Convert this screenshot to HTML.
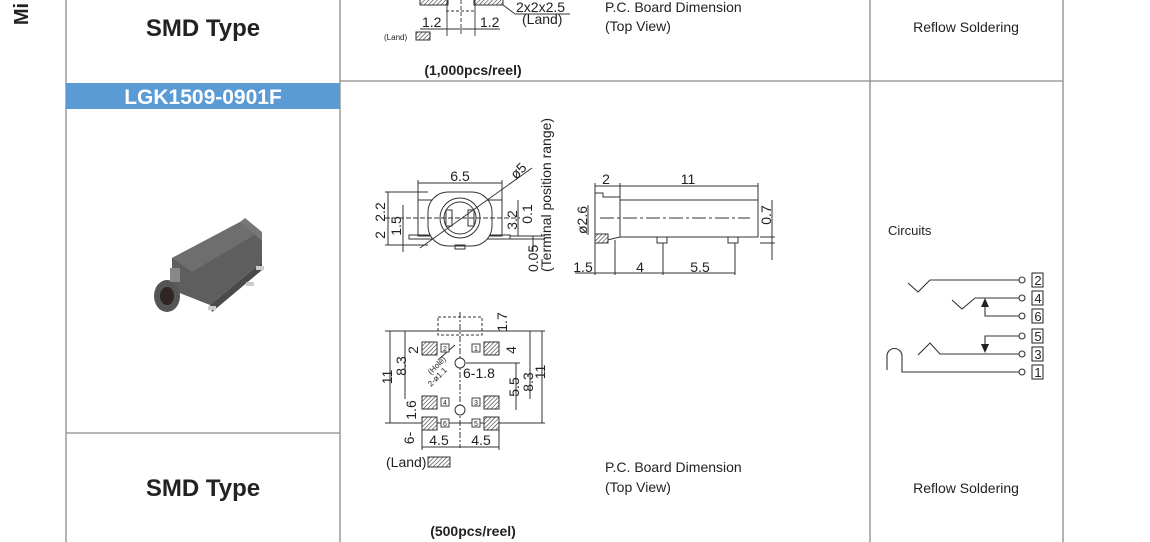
<!DOCTYPE html>
<html><head><meta charset="utf-8"><style>
html,body{margin:0;padding:0;background:#fff;width:1150px;height:542px;overflow:hidden}
svg{display:block}
text{font-family:"Liberation Sans",Arial,sans-serif;fill:#222}
</style></head><body>
<svg width="1150" height="542" viewBox="0 0 1150 542" xmlns="http://www.w3.org/2000/svg">
<defs>
<pattern id="h" width="3" height="3" patternUnits="userSpaceOnUse" patternTransform="rotate(45)"><rect width="3" height="3" fill="#fff"/><line x1="0" y1="0" x2="0" y2="3" stroke="#333" stroke-width="1.2"/></pattern>
</defs>
<g stroke="#8a8a8a" stroke-width="1.3" fill="none">
<line x1="66" y1="0" x2="66" y2="542"/>
<line x1="340" y1="0" x2="340" y2="542"/>
<line x1="870" y1="0" x2="870" y2="542"/>
<line x1="1063" y1="0" x2="1063" y2="542"/>
<line x1="340" y1="81" x2="1063" y2="81"/>
<line x1="66" y1="433" x2="340" y2="433"/>
</g>
<rect x="66" y="83" width="274" height="26" fill="#5b9bd5"/>
<text x="203" y="104" font-size="21" font-weight="bold" style="fill:#fff" text-anchor="middle">LGK1509-0901F</text>
<text transform="translate(28,14) rotate(-90)" font-size="20" font-weight="bold" text-anchor="middle">Mi</text>
<text x="203" y="36" font-size="24" font-weight="bold" text-anchor="middle">SMD Type</text>
<text x="203" y="496" font-size="24" font-weight="bold" text-anchor="middle">SMD Type</text>
<text x="605" y="12" font-size="14">P.C. Board Dimension</text>
<text x="605" y="31" font-size="14">(Top View)</text>
<text x="605" y="472" font-size="14">P.C. Board Dimension</text>
<text x="605" y="492" font-size="14">(Top View)</text>
<text x="966" y="32" font-size="14" text-anchor="middle">Reflow Soldering</text>
<text x="966" y="493" font-size="14" text-anchor="middle">Reflow Soldering</text>
<text x="888" y="235" font-size="13">Circuits</text>
<text x="473" y="75" font-size="14" font-weight="bold" text-anchor="middle">(1,000pcs/reel)</text>
<text x="473" y="536" font-size="14" font-weight="bold" text-anchor="middle">(500pcs/reel)</text>
<g stroke="#333" stroke-width="1" fill="url(#h)">
<rect x="420" y="-2" width="28" height="7"/><rect x="474" y="-2" width="29" height="7"/>
<rect x="416" y="32" width="14" height="8"/>
</g>
<g stroke="#333" stroke-width="0.9" fill="none">
<line x1="446" y1="11" x2="476" y2="11" stroke-dasharray="3,2"/>
<line x1="447" y1="0" x2="447" y2="36"/><line x1="475" y1="0" x2="475" y2="36"/>
<line x1="461" y1="0" x2="461" y2="36" stroke-dasharray="4,2"/>
<line x1="420" y1="29" x2="500" y2="29"/>
<line x1="503" y1="5" x2="515" y2="14"/><line x1="515" y1="14" x2="570" y2="14"/>
</g>
<text x="422" y="27" font-size="14">1.2</text><text x="480" y="27" font-size="14">1.2</text>
<text x="516" y="12" font-size="14">2x2x2.5</text><text x="522" y="24" font-size="14">(Land)</text>
<text x="384" y="40" font-size="8">(Land)</text>
<!-- photo -->
<g>
<polygon points="172,258 240,222 262,240 262,262 210,305 172,290" fill="#5e5e5e"/>
<polygon points="172,258 240,222 256,234 192,272" fill="#6e6e6e"/>
<polygon points="210,305 262,262 262,270 212,312" fill="#4a4a4a"/>
<polygon points="240,222 245,218 262,232 262,240" fill="#777"/>
<ellipse cx="167" cy="296" rx="13" ry="16" fill="#555"/>
<ellipse cx="167" cy="296" rx="7" ry="9" fill="#2f2525"/>
<rect x="170" y="268" width="10" height="14" fill="#888"/>
<rect x="208" y="306" width="8" height="4" fill="#ccc"/><rect x="246" y="282" width="8" height="4" fill="#ccc"/><rect x="256" y="266" width="8" height="4" fill="#ccc"/>
</g>
<g stroke="#333" stroke-width="1" fill="none">
<rect x="418" y="200" width="84" height="36"/>
<rect x="409" y="235" width="101" height="4"/>
<rect x="428" y="192" width="64" height="54" rx="20" fill="#fff"/>
<circle cx="460" cy="218" r="20"/><circle cx="460" cy="218" r="16"/>
<rect x="446" y="210" width="6" height="16"/><rect x="468" y="210" width="6" height="16"/>
<rect x="455" y="245" width="10" height="4"/>
<line x1="418" y1="183" x2="502" y2="183"/><line x1="418" y1="180" x2="418" y2="200"/><line x1="502" y1="180" x2="502" y2="200"/>
<line x1="420" y1="248" x2="532" y2="168"/>
<line x1="385" y1="192" x2="428" y2="192"/><line x1="385" y1="245" x2="428" y2="245"/>
<line x1="388" y1="192" x2="388" y2="245"/><line x1="403" y1="205" x2="403" y2="252"/>
<line x1="385" y1="218" x2="520" y2="218" stroke-dasharray="5,2"/>
<line x1="518" y1="200" x2="518" y2="236"/><line x1="533" y1="236" x2="533" y2="252"/>
<line x1="510" y1="236" x2="545" y2="236"/><line x1="510" y1="239" x2="545" y2="239"/>
</g>
<text x="460" y="181" font-size="14" text-anchor="middle">6.5</text>
<text transform="translate(516,180) rotate(-45)" font-size="14">ø5</text>
<text transform="translate(385,212) rotate(-90)" font-size="14" text-anchor="middle">2.2</text>
<text transform="translate(385,235) rotate(-90)" font-size="14" text-anchor="middle">2</text>
<text transform="translate(401,226) rotate(-90)" font-size="14" text-anchor="middle">1.5</text>
<text transform="translate(517,220) rotate(-90)" font-size="14" text-anchor="middle">3.2</text>
<text transform="translate(532,214) rotate(-90)" font-size="14" text-anchor="middle">0.1</text>
<text transform="translate(538,272) rotate(-90)" font-size="14">0.05</text>
<text transform="translate(551,272) rotate(-90)" font-size="14">(Terminal position range)</text>
<g stroke="#333" stroke-width="1" fill="none">
<path d="M595,193 L603,193 L603,197 L620,197 L620,237 L595,243 Z"/>
<rect x="620" y="200" width="138" height="37"/>
<rect x="595" y="234" width="13" height="9" fill="url(#h)"/>
<rect x="657" y="237" width="10" height="6"/><rect x="728" y="237" width="10" height="6"/>
<line x1="595" y1="186" x2="758" y2="186"/><line x1="620" y1="183" x2="620" y2="197"/><line x1="758" y1="183" x2="758" y2="200"/><line x1="595" y1="183" x2="595" y2="275"/>
<line x1="600" y1="218" x2="750" y2="218" stroke-dasharray="14,3,3,3"/>
<line x1="588" y1="205" x2="588" y2="235"/>
<line x1="615" y1="240" x2="615" y2="275"/><line x1="663" y1="243" x2="663" y2="275"/><line x1="735" y1="243" x2="735" y2="275"/>
<line x1="575" y1="273" x2="735" y2="273"/>
<line x1="760" y1="237" x2="775" y2="237"/><line x1="760" y1="243" x2="775" y2="243"/><line x1="772" y1="200" x2="772" y2="260"/>
</g>
<text x="606" y="184" font-size="14" text-anchor="middle">2</text>
<text x="688" y="184" font-size="14" text-anchor="middle">11</text>
<text transform="translate(587,220) rotate(-90)" font-size="14" text-anchor="middle">ø2.6</text>
<text transform="translate(771,215) rotate(-90)" font-size="14" text-anchor="middle">0.7</text>
<text x="583" y="272" font-size="14" text-anchor="middle">1.5</text>
<text x="640" y="272" font-size="14" text-anchor="middle">4</text>
<text x="700" y="272" font-size="14" text-anchor="middle">5.5</text>
<g stroke="#333" stroke-width="1" fill="none">
<rect x="438" y="317" width="44" height="18" stroke-dasharray="3,2"/>
<line x1="460" y1="312" x2="460" y2="448" stroke-dasharray="6,2,2,2"/>
<line x1="385" y1="331" x2="545" y2="331"/><line x1="385" y1="423" x2="545" y2="423"/>
<line x1="390" y1="331" x2="390" y2="423"/><line x1="405" y1="331" x2="405" y2="399"/>
<line x1="542" y1="331" x2="542" y2="423"/><line x1="530" y1="331" x2="530" y2="399"/>
<line x1="516" y1="363" x2="516" y2="410"/><line x1="466" y1="363" x2="520" y2="363"/>
<line x1="438" y1="360" x2="455" y2="345"/>
<line x1="422" y1="447" x2="499" y2="447"/><line x1="422" y1="425" x2="422" y2="450"/><line x1="499" y1="425" x2="499" y2="450"/>
<circle cx="460" cy="363" r="5" fill="#fff"/><circle cx="460" cy="410" r="5" fill="#fff"/>
</g>
<g stroke="#333" stroke-width="1" fill="url(#h)">
<rect x="422" y="342" width="15" height="13"/><rect x="484" y="342" width="15" height="13"/>
<rect x="422" y="396" width="15" height="13"/><rect x="484" y="396" width="15" height="13"/>
<rect x="422" y="417" width="15" height="13"/><rect x="484" y="417" width="15" height="13"/>
<rect x="428" y="457" width="22" height="10"/>
</g>
<g stroke="#333" stroke-width="0.9" fill="#fff">
<rect x="441" y="344" width="8" height="8"/><rect x="472" y="344" width="8" height="8"/>
<rect x="441" y="398" width="8" height="8"/><rect x="472" y="398" width="8" height="8"/>
<rect x="441" y="419" width="8" height="8"/><rect x="472" y="419" width="8" height="8"/>
</g>
<g font-size="7" text-anchor="middle">
<text x="445" y="351">2</text><text x="476" y="351">1</text>
<text x="445" y="405">4</text><text x="476" y="405">3</text>
<text x="445" y="426">6</text><text x="476" y="426">5</text>
</g>
<text transform="translate(392,377) rotate(-90)" font-size="14" text-anchor="middle">11</text>
<text transform="translate(406,366) rotate(-90)" font-size="14" text-anchor="middle">8.3</text>
<text transform="translate(418,350) rotate(-90)" font-size="14" text-anchor="middle">2</text>
<text transform="translate(416,410) rotate(-90)" font-size="14" text-anchor="middle">1.6</text>
<text transform="translate(414,438) rotate(-90)" font-size="14" text-anchor="middle">6-</text>
<text transform="translate(545,372) rotate(-90)" font-size="14" text-anchor="middle">11</text>
<text transform="translate(533,382) rotate(-90)" font-size="14" text-anchor="middle">8.3</text>
<text transform="translate(519,387) rotate(-90)" font-size="14" text-anchor="middle">5.5</text>
<text transform="translate(516,350) rotate(-90)" font-size="14" text-anchor="middle">4</text>
<text transform="translate(507,322) rotate(-90)" font-size="14" text-anchor="middle">1.7</text>
<text x="463" y="378" font-size="14">6-1.8</text>
<text transform="translate(431,387) rotate(-45)" font-size="8">2-ø1.1</text>
<text transform="translate(431,375) rotate(-45)" font-size="8">(Hole)</text>
<text x="439" y="445" font-size="14" text-anchor="middle">4.5</text>
<text x="481" y="445" font-size="14" text-anchor="middle">4.5</text>
<text x="386" y="467" font-size="14">(Land)</text>
<g stroke="#333" stroke-width="1.1" fill="none">
<polyline points="908,283 918,292 930,280 1019,280"/>
<polyline points="952,300 962,309 975,298 1019,298"/>
<polyline points="985,302 985,316 1019,316"/>
<polyline points="1019,336 985,336 985,348"/>
<polyline points="918,355 930,343 940,354 1019,354"/>
<path d="M887,370 L887,356 A7.5,7.5 0 0 1 902,356 L902,372 L1019,372"/>
<circle cx="1022" cy="280" r="3"/><circle cx="1022" cy="298" r="3"/><circle cx="1022" cy="316" r="3"/>
<circle cx="1022" cy="336" r="3"/><circle cx="1022" cy="354" r="3"/><circle cx="1022" cy="372" r="3"/>
<rect x="1032" y="273" width="11" height="14"/><rect x="1032" y="291" width="11" height="14"/><rect x="1032" y="309" width="11" height="14"/>
<rect x="1032" y="329" width="11" height="14"/><rect x="1032" y="347" width="11" height="14"/><rect x="1032" y="365" width="11" height="14"/>
</g>
<path d="M985,298 L981,307 L989,307Z" fill="#222"/>
<path d="M985,353 L981,344 L989,344Z" fill="#222"/>
<g font-size="13" text-anchor="middle">
<text x="1038" y="285">2</text><text x="1038" y="303">4</text><text x="1038" y="321">6</text>
<text x="1038" y="341">5</text><text x="1038" y="359">3</text><text x="1038" y="377">1</text>
</g>
</svg>
</body></html>
